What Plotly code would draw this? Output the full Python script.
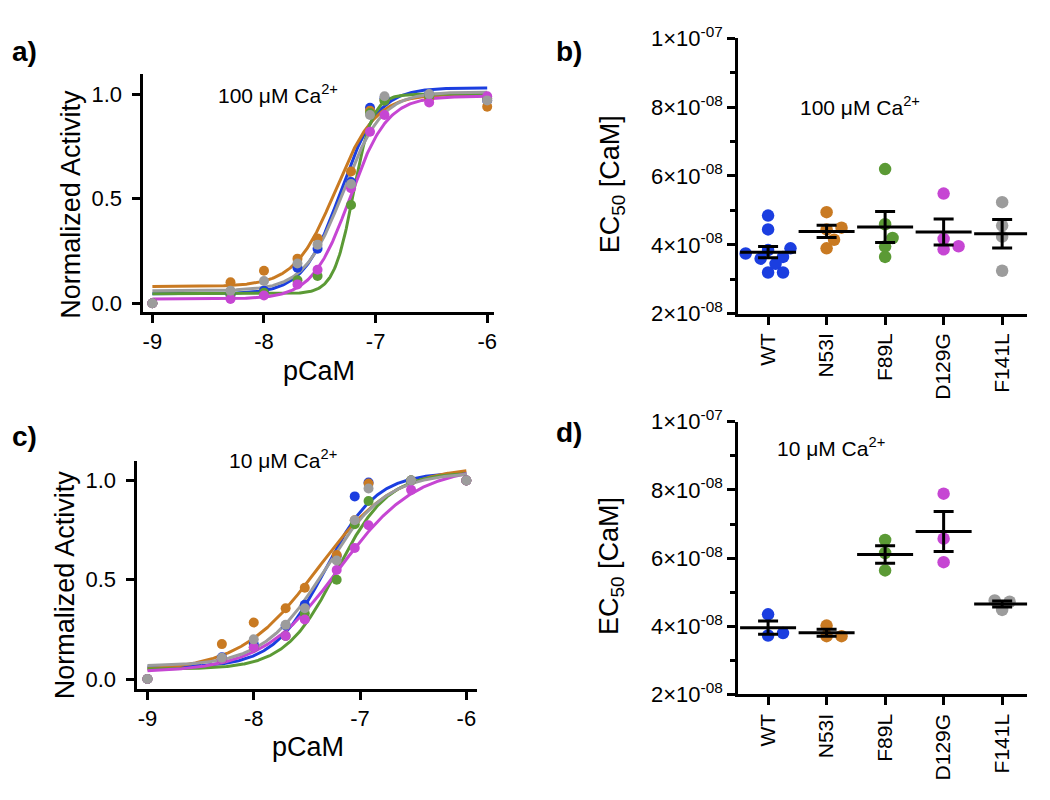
import numpy as np
import plotly.graph_objects as go

W, H = 1050, 800
FONT = "Liberation Sans, Arial, sans-serif"

# ---------------- data ----------------
mutants = ["WT", "N53I", "F89L", "D129G", "F141L"]
colors = ["#1b3ee0", "#c97a22", "#5b9a35", "#c646d3", "#9c9c9c"]

pcam = [-9, -8.3, -8, -7.7, -7.52, -7.22, -7.05, -6.92, -6.52, -6]

# normalized activity, 100 uM Ca2+
act100_WT = [0.0, 0.04, 0.06, 0.17, 0.26, 0.58, 0.935, 0.98, 1.0, 0.97]
act100_N53I = [0.0, 0.10, 0.155, 0.213, 0.31, 0.63, 0.92, 0.97, 0.98, 0.94]
act100_F89L = [0.0, 0.04, 0.05, 0.11, 0.13, 0.47, 0.91, 0.97, 0.99, 0.98]
act100_D129G = [0.0, 0.02, 0.037, 0.09, 0.16, 0.55, 0.82, 0.90, 0.96, 0.99]
act100_F141L = [0.0, 0.06, 0.106, 0.19, 0.28, 0.57, 0.90, 0.99, 1.0, 0.97]

# normalized activity, 10 uM Ca2+
act10_WT = [0.0, 0.11, 0.176, 0.27, 0.374, 0.62, 0.92, 0.99, 1.0, 1.0]
act10_N53I = [0.0, 0.176, 0.285, 0.357, 0.46, 0.625, 0.80, 0.985, 1.0, 1.0]
act10_F89L = [0.0, 0.10, 0.16, 0.217, 0.33, 0.50, 0.78, 0.897, 1.0, 1.0]
act10_D129G = [0.0, 0.10, 0.16, 0.217, 0.30, 0.549, 0.66, 0.775, 0.953, 1.0]
act10_F141L = [0.0, 0.107, 0.20, 0.273, 0.357, 0.597, 0.80, 0.96, 1.0, 1.0]

# dose-response fit parameters (bottom, top, logEC50, Hill slope)
fit100_bottom = [0.045, 0.08, 0.045, 0.02, 0.06]
fit100_top = [1.03, 1.0, 1.0, 0.99, 1.01]
fit100_logec50 = [-7.31, -7.36, -7.20, -7.23, -7.29]
fit100_hill = [2.6, 2.4, 5.0, 2.6, 2.5]

fit10_bottom = [0.06, 0.04, 0.05, 0.035, 0.065]
fit10_top = [1.04, 1.07, 1.04, 1.07, 1.04]
fit10_logec50 = [-7.33, -7.40, -7.22, -7.20, -7.33]
fit10_hill = [1.8, 1.2, 1.8, 1.2, 1.5]

# EC50 values [M], 100 uM Ca2+
ec50_100_WT = [4.85e-8, 4.45e-8, 3.9e-8, 3.85e-8, 3.65e-8, 3.6e-8, 3.45e-8, 3.2e-8, 3.2e-8, 3.75e-8]
ec50_100_N53I = [4.95e-8, 4.45e-8, 4.5e-8, 4.15e-8, 3.9e-8]
ec50_100_F89L = [6.2e-8, 4.6e-8, 4.2e-8, 3.95e-8, 3.65e-8]
ec50_100_D129G = [5.49e-8, 4.17e-8, 3.87e-8, 3.96e-8]
ec50_100_F141L = [5.24e-8, 4.56e-8, 4.24e-8, 3.25e-8]

# EC50 values [M], 10 uM Ca2+
ec50_10_WT = [4.35e-8, 3.73e-8, 3.80e-8]
ec50_10_N53I = [4.02e-8, 3.71e-8, 3.71e-8]
ec50_10_F89L = [6.53e-8, 6.15e-8, 5.64e-8]
ec50_10_D129G = [7.89e-8, 6.57e-8, 5.88e-8]
ec50_10_F141L = [4.76e-8, 4.72e-8, 4.48e-8]

ec_ticks = [2e-8, 4e-8, 6e-8, 8e-8, 1e-7]
ec_ticktext = ["2×10<sup>-08</sup>", "4×10<sup>-08</sup>", "6×10<sup>-08</sup>",
               "8×10<sup>-08</sup>", "1×10<sup>-07</sup>"]
p_ticks = [-9, -8, -7, -6]
p_ticktext = ["-9", "-8", "-7", "-6"]
a_ticks = [0, 0.5, 1.0]
a_ticktext = ["0.0", "0.5", "1.0"]

act100 = [act100_WT, act100_N53I, act100_F89L, act100_D129G, act100_F141L]
act10 = [act10_WT, act10_N53I, act10_F89L, act10_D129G, act10_F141L]
ec100 = [ec50_100_WT, ec50_100_N53I, ec50_100_F89L, ec50_100_D129G, ec50_100_F141L]
ec10 = [ec50_10_WT, ec50_10_N53I, ec50_10_F89L, ec50_10_D129G, ec50_10_F141L]

# ---------------- layout helpers ----------------
def dx(p0, p1):
    return [p0 / W, p1 / W]

def dy(top, bot):
    return [1 - bot / H, 1 - top / H]

fig = go.Figure()

def logistic(x, b, t, l, h):
    return b + (t - b) / (1 + 10 ** ((l - x) * h))

xs = np.linspace(-9, -6, 400)

def add_curves(act, bot, top, lec, hill, xa, ya):
    for i in range(5):
        fig.add_trace(go.Scatter(x=xs, y=logistic(xs, bot[i], top[i], lec[i], hill[i]),
                                 mode="lines", line=dict(color=colors[i], width=3),
                                 xaxis=xa, yaxis=ya, showlegend=False, hoverinfo="skip"))
    for i in range(5):
        fig.add_trace(go.Scatter(x=pcam, y=act[i], mode="markers",
                                 marker=dict(color=colors[i], size=10),
                                 xaxis=xa, yaxis=ya, showlegend=False))

add_curves(act100, fit100_bottom, fit100_top, fit100_logec50, fit100_hill, "x", "y")
add_curves(act10, fit10_bottom, fit10_top, fit10_logec50, fit10_hill, "x3", "y3")

CAT_PX = 58.75
D_PX = 12.5

def swarm(vals, px_per_unit):
    order = np.argsort(vals)
    placed = []
    offs = [0.0] * len(vals)
    step = D_PX * 0.6
    for idx in order:
        ypx = vals[idx] * px_per_unit
        for k in [0, 1, -1, 2, -2, 3, -3]:
            xo = k * step
            if all((xo - px) ** 2 + (ypx - py) ** 2 >= (D_PX * 0.8) ** 2 for px, py in placed):
                break
        placed.append((xo, ypx))
        offs[idx] = xo / CAT_PX
    return offs

def add_ec(groups, xa, ya, px_per_unit):
    for i, vals in enumerate(groups):
        v = np.array(vals)
        offs = swarm(v, px_per_unit)
        fig.add_trace(go.Scatter(x=[i + o for o in offs], y=v, mode="markers",
                                 marker=dict(color=colors[i], size=12.5),
                                 xaxis=xa, yaxis=ya, showlegend=False))
    for i, vals in enumerate(groups):
        v = np.array(vals)
        m = v.mean()
        sem = v.std(ddof=1) / np.sqrt(len(v))
        fig.add_trace(go.Scatter(x=[i], y=[m], mode="markers",
                                 marker=dict(symbol="line-ew", size=40, color="black",
                                             line=dict(color="black", width=3)),
                                 error_y=dict(type="data", array=[sem], color="black",
                                              thickness=3, width=10),
                                 xaxis=xa, yaxis=ya, showlegend=False))

add_ec(ec100, "x2", "y2", 35.75 / 1e-8)
add_ec(ec10, "x4", "y4", 35.3 / 1e-8)

axis_common = dict(showgrid=False, zeroline=False, showline=True, linecolor="black",
                   linewidth=3, ticks="outside", ticklen=8, tickwidth=2.5,
                   tickcolor="black", tickfont=dict(family=FONT, size=22, color="black"))
cat_font = dict(family=FONT, size=21, color="black")

fig.update_layout(
    width=W, height=H, margin=dict(l=0, r=0, t=0, b=0),
    paper_bgcolor="white", plot_bgcolor="white", showlegend=False,
    font=dict(family=FONT, color="black"),
    # panel a
    xaxis=dict(domain=dx(143, 495), range=[-9.08, -5.938], anchor="y",
               tickvals=p_ticks, ticktext=p_ticktext, **axis_common),
    yaxis=dict(domain=dy(60, 307), range=[-0.0415, 1.097], anchor="x",
               tickvals=a_ticks, ticktext=a_ticktext, ticklabelstandoff=6, **axis_common),
    # panel c
    xaxis3=dict(domain=dx(137, 478), range=[-9.094, -5.898], anchor="y3",
                tickvals=p_ticks, ticktext=p_ticktext, **axis_common),
    yaxis3=dict(domain=dy(462, 698), range=[-0.0485, 1.097], anchor="x3",
                tickvals=a_ticks, ticktext=a_ticktext, ticklabelstandoff=6, **axis_common),
    # panel b
    xaxis2=dict(domain=dx(740, 1030), range=[-0.511, 4.426], anchor="y2",
                tickvals=list(range(5)), ticktext=mutants, tickangle=-90,
                **{**axis_common, "tickfont": cat_font}),
    yaxis2=dict(domain=dy(23, 309), range=[2e-8, 1e-7], anchor="x2",
                tickvals=ec_ticks, ticktext=ec_ticktext,
                minor=dict(dtick=1e-8, tick0=2e-8, ticks="outside", ticklen=5,
                           tickwidth=2.5, tickcolor="black"), **axis_common),
    # panel d
    xaxis4=dict(domain=dx(740, 1030), range=[-0.511, 4.426], anchor="y4",
                tickvals=list(range(5)), ticktext=mutants, tickangle=-90,
                **{**axis_common, "tickfont": cat_font}),
    yaxis4=dict(domain=dy(421, 704), range=[2e-8, 1e-7], anchor="x4",
                tickvals=ec_ticks, ticktext=ec_ticktext,
                minor=dict(dtick=1e-8, tick0=2e-8, ticks="outside", ticklen=5,
                           tickwidth=2.5, tickcolor="black"), **axis_common),
)

def ann(text, px, py, size, angle=0, bold=False, xanchor="center"):
    fig.add_annotation(text=f"<b>{text}</b>" if bold else text,
                       x=px / W, y=1 - py / H, xref="paper", yref="paper",
                       showarrow=False, textangle=angle, xanchor=xanchor, yanchor="middle",
                       font=dict(family=FONT, size=size, color="black"))

# panel labels
ann("a)", 24, 37, 28, bold=True)
ann("b)", 570, 37, 28, bold=True)
ann("c)", 24, 436, 28, bold=True)
ann("d)", 570, 432, 28, bold=True)

# titles
ann("100 μM Ca<sup>2+</sup>", 278, 81, 21)
ann("100 μM Ca<sup>2+</sup>", 862, 93, 21)
ann("10 μM Ca<sup>2+</sup>", 283, 460, 21)
ann("10 μM Ca<sup>2+</sup>", 833, 447, 21)

# axis titles
ann("Normalized Activity", 70, 195, 27, angle=-90)
ann("Normalized Activity", 64, 590, 27, angle=-90)
ann("pCaM", 319, 368, 27)
ann("pCaM", 308, 759, 27)
ann("EC<sub>50</sub> [CaM]", 613, 175, 27, angle=-90)
ann("EC<sub>50</sub> [CaM]", 613, 571, 27, angle=-90)

fig.write_html("out.html", config={"displayModeBar": False},
               post_script="document.body.style.margin='0px';")
